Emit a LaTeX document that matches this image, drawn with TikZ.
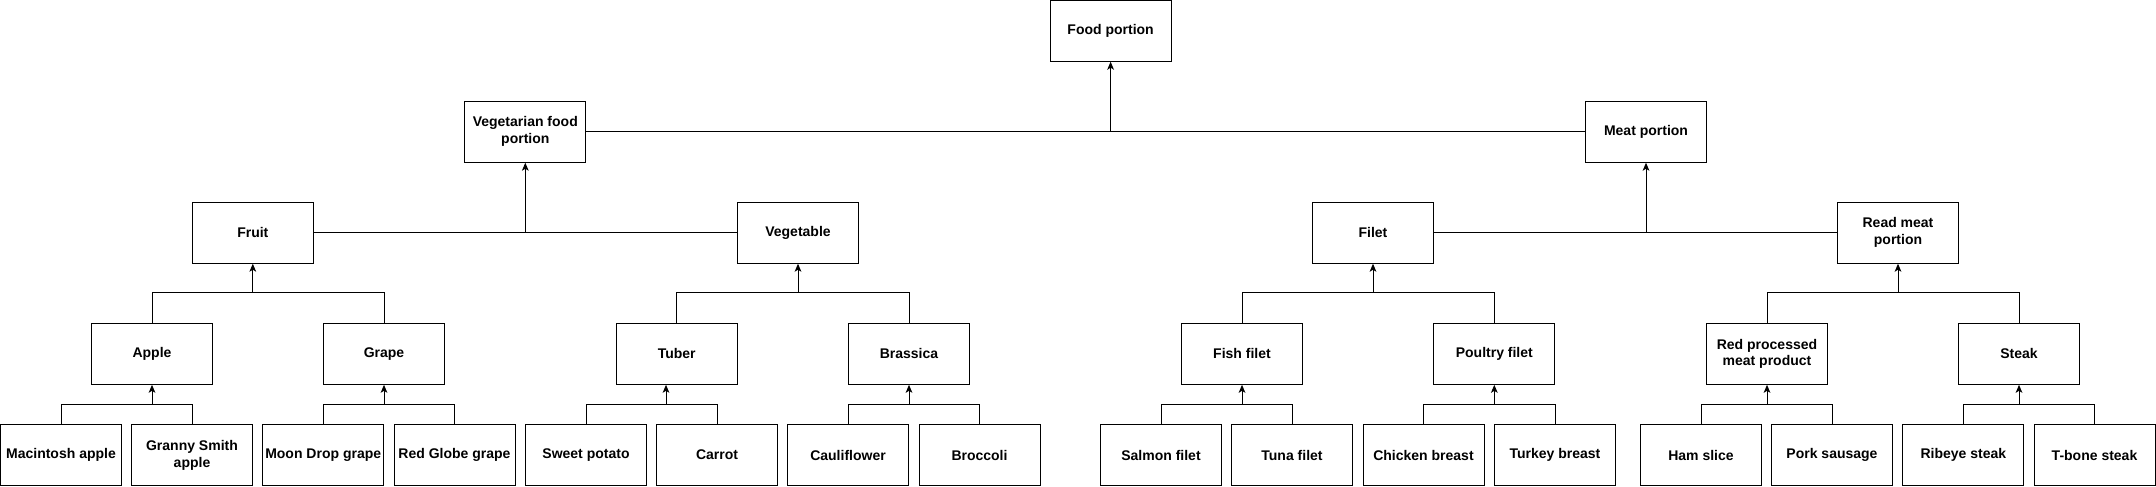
\documentclass[tikz,border=0pt]{standalone}
\usepackage{fontspec}
\setmainfont{Liberation Sans}
\usetikzlibrary{arrows.meta}
\tikzset{
  box/.style={draw=black, line width=0.75pt, fill=white, minimum width=90.75pt, minimum height=45.75pt,
    inner sep=0pt, align=center, font=\fontsize{10.5}{12.6}\selectfont\bfseries},
  conn/.style={draw=black, line width=0.75pt},
  arr/.style={conn, -{Stealth[length=6pt,width=5pt,inset=1.5pt]}}
}
\newcommand\famgrp[4]{%
  \draw[conn] (#1.north) -- ++(0,-#4) -| (#2.north);
  \path (#1.north) ++(0,-#4) coordinate (tmpbar);
  \draw[arr] (tmpbar -| #3.south) -- (#3.south);
}
\begin{document}
\begin{tikzpicture}[x=0.75pt,y=-0.75pt]
\fill[white] (0,0) rectangle (2156,486);
\useasboundingbox (0,0) rectangle (2156,486);
% row 0
\node[box] (food) at (1110.6,30.7) {Food portion};
% row 1
\node[box] (veg) at (525.3,131.7) {Vegetarian food\\portion};
\node[box] (meat) at (1646,131.7) {Meat portion};
% row 2
\node[box] (fruit) at (252.8,232.7) {Fruit};
\node[box] (vegetable) at (798,232.7) {Vegetable};
\node[box] (filet) at (1373,232.7) {Filet};
\node[box] (redmeat) at (1898,232.7) {Read meat\\portion};
% row 3
\node[box] (apple) at (152,353.8) {Apple};
\node[box] (grape) at (384,353.8) {Grape};
\node[box] (tuber) at (676.7,353.8) {Tuber};
\node[box] (brassica) at (909,353.8) {Brassica};
\node[box] (fish) at (1242,353.8) {Fish filet};
\node[box] (poultry) at (1494.3,353.8) {Poultry filet};
\node[box] (redproc) at (1767,353.8) {Red processed\\meat product};
\node[box] (steak) at (2019,353.8) {Steak};
% row 4
\node[box] (mac) at (61,455) {Macintosh apple};
\node[box] (granny) at (192,455) {Granny Smith\\apple};
\node[box] (moon) at (323.2,455) {Moon Drop grape};
\node[box] (globe) at (454.5,455) {Red Globe grape};
\node[box] (sweet) at (586,455) {Sweet potato};
\node[box] (carrot) at (717,455) {Carrot};
\node[box] (cauli) at (848,455) {Cauliflower};
\node[box] (broc) at (979.5,455) {Broccoli};
\node[box] (salmon) at (1161,455) {Salmon filet};
\node[box] (tuna) at (1292,455) {Tuna filet};
\node[box] (chicken) at (1423.5,455) {Chicken breast};
\node[box] (turkey) at (1555,455) {Turkey breast};
\node[box] (ham) at (1701,455) {Ham slice};
\node[box] (pork) at (1832,455) {Pork sausage};
\node[box] (ribeye) at (1963.4,455) {Ribeye steak};
\node[box] (tbone) at (2094.5,455) {T-bone steak};
% leaf groups
\famgrp{mac}{granny}{apple}{20}
\famgrp{moon}{globe}{grape}{20}
\draw[conn] (sweet.north) -- ++(0,-20) -| (carrot.north);
\coordinate (tuberfoot) at (666,404.3);
\draw[arr] (tuberfoot) -- (tuberfoot |- tuber.south);
\famgrp{cauli}{broc}{brassica}{20}
\famgrp{salmon}{tuna}{fish}{20}
\famgrp{chicken}{turkey}{poultry}{20}
\famgrp{ham}{pork}{redproc}{20}
\famgrp{ribeye}{tbone}{steak}{20}
% mid groups
\famgrp{apple}{grape}{fruit}{30}
\famgrp{tuber}{brassica}{vegetable}{30}
\famgrp{fish}{poultry}{filet}{30}
\famgrp{redproc}{steak}{redmeat}{30}
% upper levels
\draw[conn] (fruit.east) -- (vegetable.west);
\draw[arr] (veg.south |- fruit.east) -- (veg.south);
\draw[conn] (filet.east) -- (redmeat.west);
\draw[arr] (meat.south |- filet.east) -- (meat.south);
\draw[conn] (veg.east) -- (meat.west);
\draw[arr] (food.south |- veg.east) -- (food.south);
\end{tikzpicture}
\end{document}
